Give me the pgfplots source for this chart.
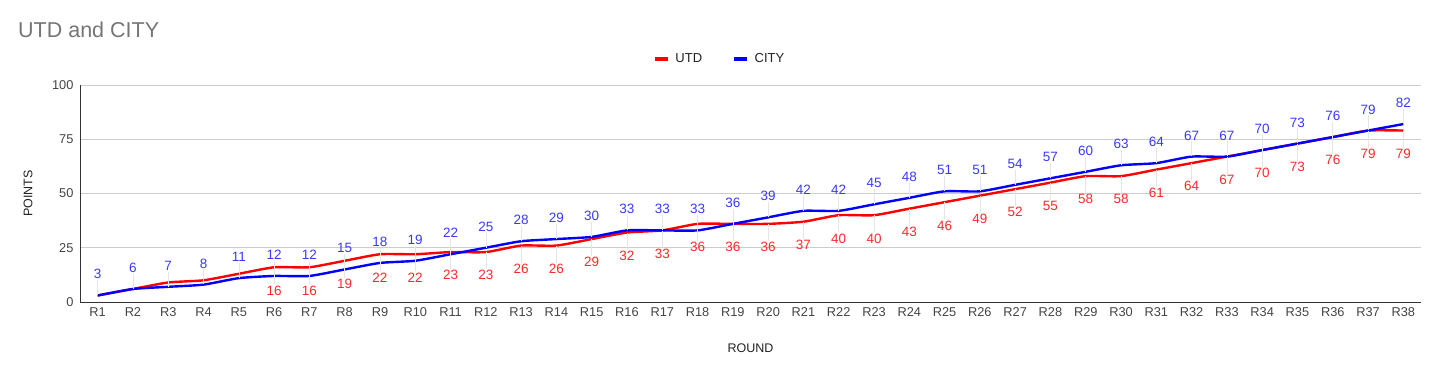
\documentclass[border=0pt]{standalone}
\usepackage{pgfplots}
\pgfplotsset{compat=1.18}
\usepackage{pgfplotstable}
\usepackage{fontspec}
\setmainfont{Liberation Sans}
\definecolor{ttl}{HTML}{757575}
\definecolor{tck}{HTML}{444444}
\definecolor{lbl}{HTML}{222222}
\definecolor{utd}{HTML}{FF0000}
\definecolor{city}{HTML}{0000FF}
\definecolor{utdlab}{HTML}{FF2A2A}
\definecolor{citylab}{HTML}{3A3AFF}
\definecolor{grd}{HTML}{CCCCCC}
\definecolor{axl}{HTML}{333333}
\pgfkeys{/pgf/number format/assume math mode=true}
\pgfplotstableread{
x utd city
1 3 3
2 6 6
3 9 7
4 10 8
5 13 11
6 16 12
7 16 12
8 19 15
9 22 18
10 22 19
11 23 22
12 23 25
13 26 28
14 26 29
15 29 30
16 32 33
17 33 33
18 36 33
19 36 36
20 36 39
21 37 42
22 40 42
23 40 45
24 43 48
25 46 51
26 49 51
27 52 54
28 55 57
29 58 60
30 58 63
31 61 64
32 64 67
33 67 67
34 70 70
35 73 73
36 76 76
37 79 79
38 79 82
}\datatable
\pgfplotstableread{
x utd
6 16
7 16
8 19
9 22
10 22
11 23
12 23
13 26
14 26
15 29
16 32
17 33
18 36
19 36
20 36
21 37
22 40
23 40
24 43
25 46
26 49
27 52
28 55
29 58
30 58
31 61
32 64
33 67
34 70
35 73
36 76
37 79
38 79
}\utdlabels
\begin{document}
\begin{tikzpicture}[x=1pt,y=1pt]
\useasboundingbox (0,0) rectangle (1440,374);
\node[anchor=west, text=ttl, font=\fontsize{21.5}{25}\selectfont, inner sep=0pt] at (18,344) {UTD and CITY};
\begin{axis}[
  at={(80pt,72pt)}, anchor=south west,
  width=1341pt, height=217pt, scale only axis,
  xmin=0.5, xmax=38.5, ymin=0, ymax=100,
  xtick={1,...,38},
  xticklabels={R1,R2,R3,R4,R5,R6,R7,R8,R9,R10,R11,R12,R13,R14,R15,R16,R17,R18,R19,R20,R21,R22,R23,R24,R25,R26,R27,R28,R29,R30,R31,R32,R33,R34,R35,R36,R37,R38},
  ytick={0,25,50,75,100},
  /pgf/number format/assume math mode=true,
  major tick length=0pt,
  axis x line*=bottom, axis y line*=left,
  axis line style={axl, line width=0.9pt},
  ymajorgrids, major grid style={grd, line width=0.7pt},
  tick label style={text=tck, font=\fontsize{12.8}{15}\selectfont},
  yticklabel style={xshift=-3pt},
  xticklabel style={yshift=-2pt},
  xlabel={ROUND}, ylabel={POINTS},
  label style={text=lbl, font=\fontsize{12.5}{14}\selectfont},
  xlabel style={at={(axis description cs:0.5,0)}, anchor=center, yshift=-46pt},
  ylabel style={at={(axis description cs:-0.0388,0.5)}, anchor=center},
  legend style={at={(0.477,1.12)}, anchor=center, draw=none, fill=none,
    legend columns=2, font=\fontsize{13}{15}\selectfont, text=lbl,
    /tikz/every even column/.append style={column sep=28pt}},
  legend image code/.code={\draw[#1, line width=4.5pt] (0pt,0pt) -- (13pt,0pt); \path (17pt,0pt);},
  clip=false,
]
\addplot[utd, line width=2.4pt, smooth, tension=0.35, mark=none] table[x=x, y=utd] {\datatable};
\addlegendentry{UTD}
\addplot[city, line width=2.4pt, smooth, tension=0.35, mark=none] table[x=x, y=city] {\datatable};
\addlegendentry{CITY}
\addplot[draw=none, mark=none, forget plot,
  nodes near coords={},
  every node near coord/.style={inner sep=0pt, minimum size=0pt, anchor=center,
    pin={[pin distance=15pt, pin edge={black!10, line width=0.6pt}, text=citylab, inner sep=1pt, font=\fontsize{13.5}{16}\selectfont]90:\pgfmathprintnumber[assume math mode=true]{\pgfplotspointmeta}}}
] table[x=x, y=city] {\datatable};
\addplot[draw=none, mark=none, forget plot,
  nodes near coords={},
  every node near coord/.style={inner sep=0pt, minimum size=0pt, anchor=center,
    pin={[pin distance=17pt, pin edge={black!10, line width=0.6pt}, text=utdlab, inner sep=1pt, font=\fontsize{13.5}{16}\selectfont]270:\pgfmathprintnumber[assume math mode=true]{\pgfplotspointmeta}}}
] table[x=x, y=utd] {\utdlabels};
\end{axis}
\end{tikzpicture}
\end{document}
